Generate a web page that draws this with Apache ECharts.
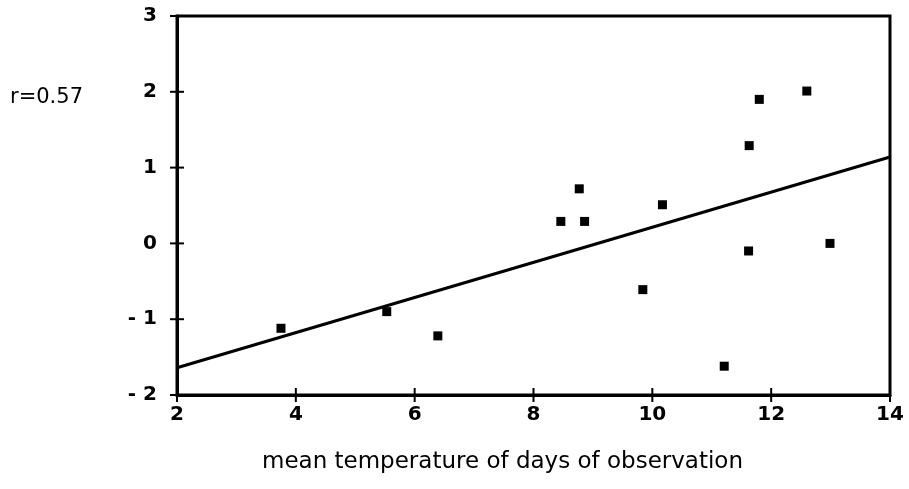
<!DOCTYPE html>
<html>
<head>
<meta charset="utf-8">
<script src="https://cdn.jsdelivr.net/npm/echarts@6/dist/echarts.min.js"></script>
<style>
  html, body { margin: 0; padding: 0; background: #fff; }
  #chart { width: 909px; height: 489px; }
</style>
</head>
<body>
<div id="chart"></div>
<script>
// Observations: mean temperature (x) against the response (y)
var tempX = [3.75, 5.53, 6.39, 8.46, 8.77, 8.86, 9.84, 10.17, 11.21, 11.62, 11.63, 11.80, 12.60, 12.99];
var respY = [-1.12, -0.90, -1.22, 0.29, 0.72, 0.29, -0.61, 0.51, -1.62, -0.10, 1.29, 1.90, 2.01, 0.00];

// Least-squares fit line endpoints
var fitX = [2, 14];
var fitY = [-1.64, 1.14];

// Axis ticks and their labels
var xTickVals = [2, 4, 6, 8, 10, 12, 14];
var xTicks = ['2', '4', '6', '8', '10', '12', '14'];
var yTickVals = [-2, -1, 0, 1, 2, 3];
var yTicks = ['- 2', '- 1', '0', '1', '2', '3'];

var X_MIN = 2, X_MAX = 14, Y_MIN = -2, Y_MAX = 3;

var corrLabel = 'r=0.57';
var xTitle = 'mean temperature of days of observation';

var points = tempX.map(function (x, i) { return [x, respY[i]]; });
var fitLine = fitX.map(function (x, i) { return [x, fitY[i]]; });

var tickFont = { fontFamily: 'DejaVu Sans', fontWeight: 'bold', fontSize: 20, color: '#000' };
var HALF_TICK = 7;

var chart = echarts.init(document.getElementById('chart'));
chart.setOption({
  animation: false,
  backgroundColor: '#fff',
  grid: {
    left: 177, right: 19, top: 16, bottom: 94,
    show: true, borderColor: '#000', borderWidth: 3
  },
  xAxis: {
    type: 'value', min: X_MIN, max: X_MAX, interval: 2,
    axisLine: { onZero: false, lineStyle: { color: '#000', width: 3 } },
    axisTick: { show: false },
    axisLabel: Object.assign({
      margin: 10,
      formatter: function (v) { return xTicks[xTickVals.indexOf(v)]; }
    }, tickFont),
    splitLine: { show: false }
  },
  yAxis: {
    type: 'value', min: Y_MIN, max: Y_MAX, interval: 1,
    axisLine: { show: true, onZero: false, lineStyle: { color: '#000', width: 3 } },
    axisTick: { show: false },
    axisLabel: Object.assign({
      margin: 20,
      formatter: function (v) { return yTicks[yTickVals.indexOf(v)]; }
    }, tickFont),
    splitLine: { show: false }
  },
  series: [
    {
      type: 'line',
      data: fitLine,
      symbol: 'none',
      lineStyle: { color: '#000', width: 3 },
      z: 3
    },
    {
      type: 'scatter',
      data: points,
      symbol: 'rect',
      symbolSize: 9,
      itemStyle: { color: '#000', opacity: 1 },
      z: 4
    }
  ]
});

// Tick marks that cross the axis lines, placed through the chart's own scales
var ticks = [];
xTickVals.forEach(function (v) {
  var p = chart.convertToPixel({ gridIndex: 0 }, [v, Y_MIN]);
  ticks.push({
    type: 'line', z: 10, silent: true,
    shape: { x1: p[0], y1: p[1] - HALF_TICK, x2: p[0], y2: p[1] + HALF_TICK },
    style: { stroke: '#000', lineWidth: 2 }
  });
});
yTickVals.forEach(function (v) {
  var p = chart.convertToPixel({ gridIndex: 0 }, [X_MIN, v]);
  ticks.push({
    type: 'line', z: 10, silent: true,
    shape: { x1: p[0] - HALF_TICK, y1: p[1], x2: p[0] + HALF_TICK, y2: p[1] },
    style: { stroke: '#000', lineWidth: 2 }
  });
});

chart.setOption({
  graphic: ticks.concat([
    {
      type: 'text', left: 10, top: 87,
      style: { text: corrLabel, font: '21px "DejaVu Sans"', fill: '#000' }
    },
    {
      type: 'text', left: 262, top: 451,
      style: { text: xTitle, font: '23px "DejaVu Sans"', fill: '#000' }
    }
  ])
});
</script>
</body>
</html>
